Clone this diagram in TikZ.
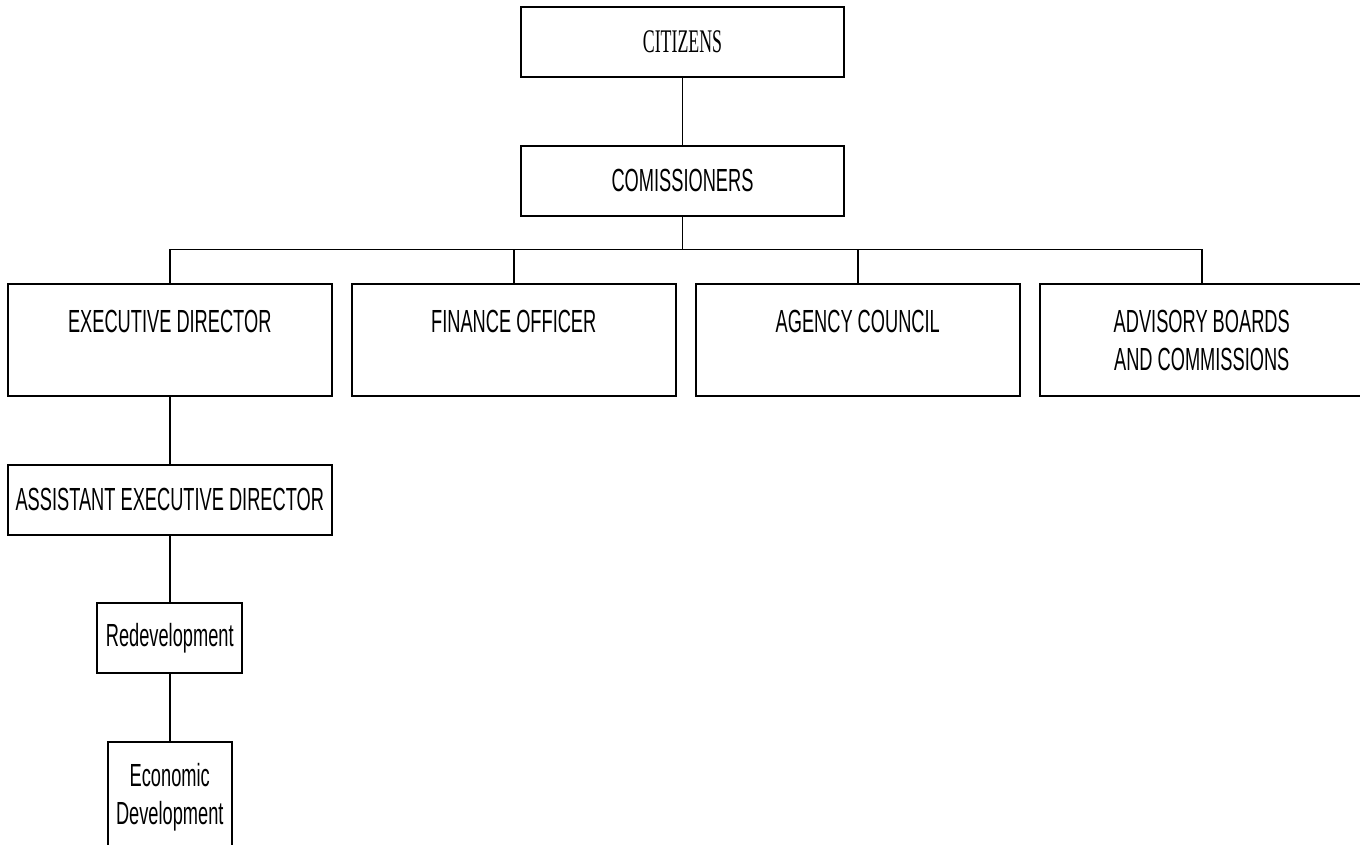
\documentclass[tikz,border=0pt]{standalone}
\usepackage{fontspec}
\setmainfont[FakeStretch=0.57]{Liberation Sans}
\newfontfamily\citfont[FakeStretch=0.54]{Liberation Serif}
\usetikzlibrary{positioning}

\begin{document}
\begin{tikzpicture}[
    x=1pt, y=1pt,
    node distance=66.5pt and 18.5pt,
    box/.style={rectangle, draw=black, line width=2pt, fill=white, inner sep=0pt, minimum width=323.5pt, minimum height=70pt, align=center, font=\fontsize{32}{38}\selectfont},
    tier/.style={box, minimum height=112pt},
    line/.style={draw, line width=1.5pt}
]
\useasboundingbox (0,0) rectangle (1360,-844);

% Nodes
\node [box, font=\citfont\fontsize{33}{38}\selectfont] (citizens) at (682.5,-42) {CITIZENS};
\node [box, below=of citizens] (comm) {COMISSIONERS};
\coordinate [below=33pt of comm] (bus);
\node [tier, below=of comm, xshift=-512.75pt] (exec) {EXECUTIVE DIRECTOR\\\mbox{}};
\node [tier, right=of exec] (finance) {FINANCE OFFICER\\\mbox{}};
\node [tier, right=of finance] (council) {AGENCY COUNCIL\\\mbox{}};
\node [tier, right=of council] (advisory) {ADVISORY BOARDS\\AND COMMISSIONS};
\node [box, below=of exec] (asst) {ASSISTANT EXECUTIVE DIRECTOR};
\node [box, below=of asst, minimum width=145pt] (redev) {Redevelopment};
\node [tier, below=of redev, minimum width=124pt] (econ) {Economic\\Development};

% Connectors
\path [line] (citizens) -- (comm);
\path [line] (comm) -- (bus);
\path [line] (bus) -| (exec);
\path [line] (bus) -| (finance);
\path [line] (bus) -| (council);
\path [line] (bus) -| (advisory);
\path [line] (exec) -- (asst);
\path [line] (asst) -- (redev);
\path [line] (redev) -- (econ);

\end{tikzpicture}
\end{document}
